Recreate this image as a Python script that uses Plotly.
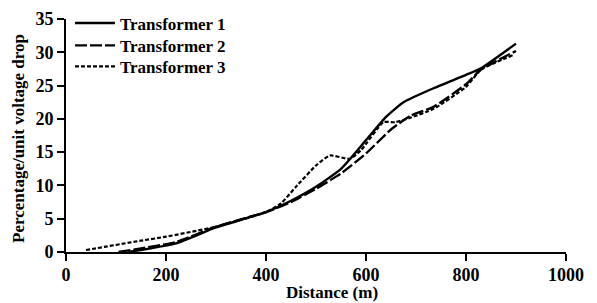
import plotly.graph_objects as go

# Data
t1_x = [125, 220, 300, 400, 450, 500, 550, 600, 640, 675, 735, 800, 830, 900]
t1_y = [0.0, 1.3, 3.7, 6.0, 7.7, 9.8, 12.5, 16.8, 20.3, 22.5, 24.6, 26.6, 27.6, 31.3]

t2_x = [105, 220, 300, 400, 450, 500, 550, 600, 650, 690, 735, 800, 830, 900]
t2_y = [0.0, 1.5, 3.8, 6.0, 7.5, 9.5, 11.8, 14.8, 18.4, 20.5, 21.8, 25.2, 27.4, 30.2]

t3_x = [40, 150, 200, 300, 400, 430, 460, 500, 528, 568, 590, 635, 658, 690, 735, 800, 830, 895]
t3_y = [0.3, 1.7, 2.3, 3.8, 6.0, 7.3, 9.8, 13.0, 14.5, 14.0, 15.3, 19.5, 19.5, 20.2, 21.5, 24.8, 27.4, 29.6]

names = ["Transformer 1", "Transformer 2", "Transformer 3"]
x_ticks = [0, 200, 400, 600, 800, 1000]
y_ticks = [0, 5, 10, 15, 20, 25, 30, 35]

FONT = "Liberation Serif"
fig = go.Figure()
fig.add_trace(go.Scatter(x=t1_x, y=t1_y, mode="lines", name=names[0], legend="legend",
                         line=dict(color="black", width=2.4, shape="spline", smoothing=0.5)))
fig.add_trace(go.Scatter(x=t2_x, y=t2_y, mode="lines", name=names[1], legend="legend2",
                         line=dict(color="black", width=2.4, dash="12px,3px", shape="spline", smoothing=0.5)))
fig.add_trace(go.Scatter(x=t3_x, y=t3_y, mode="lines", name=names[2], legend="legend3",
                         line=dict(color="black", width=2.2, dash="4px,2px", shape="spline", smoothing=0.5)))

leg_common = dict(x=0.008, xanchor="left", yanchor="top", bgcolor="rgba(0,0,0,0)",
                  font=dict(size=17, weight="bold", family=FONT), itemwidth=40)

fig.update_layout(
    width=597, height=303,
    margin=dict(l=66, r=31, t=19, b=51, autoexpand=False),
    paper_bgcolor="white", plot_bgcolor="white",
    font=dict(family=FONT, size=18, color="black", weight="bold"),
    showlegend=True,
    legend=dict(y=1.058, **leg_common),
    legend2=dict(y=0.962, **leg_common),
    legend3=dict(y=0.872, **leg_common),
    xaxis=dict(range=[0, 1000], tickvals=x_ticks, automargin=False,
               showline=True, linecolor="black", linewidth=2,
               ticks="outside", ticklen=7, tickwidth=2, tickcolor="black",
               ticklabelstandoff=-2,
               showgrid=False, zeroline=False),
    yaxis=dict(range=[0, 35], tickvals=y_ticks, automargin=False,
               showline=True, linecolor="black", linewidth=2,
               ticks="outside", ticklen=7, tickwidth=2, tickcolor="black",
               showgrid=False, zeroline=False),
    annotations=[
        dict(text="Distance (m)", xref="paper", yref="paper", x=0.532, y=-0.2175,
             xanchor="center", yanchor="bottom", showarrow=False, borderpad=0,
             font=dict(size=17, weight="bold")),
        dict(text="Percentage/unit voltage drop", xref="paper", yref="paper",
             x=-0.094, y=0.485, xanchor="center", yanchor="middle", textangle=-90,
             showarrow=False, font=dict(size=17, weight="bold")),
    ],
)

fig.write_html("out.html", config={"displayModeBar": False},
               post_script="document.body.style.margin='0';document.body.style.overflow='hidden';")
